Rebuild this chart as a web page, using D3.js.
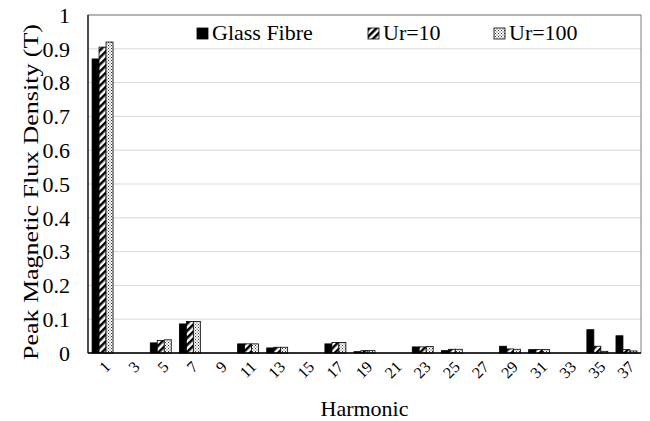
<!DOCTYPE html>
<html><head><meta charset="utf-8">
<script src="https://cdn.jsdelivr.net/npm/d3@7"></script>
<style>body{margin:0;background:#fff}svg{display:block}</style>
</head><body><svg id="c" width="650" height="421"></svg>
<script>
const harmonics = ["1","3","5","7","9","11","13","15","17","19","21","23","25","27","29","31","33","35","37"];
const seriesNames = ["Glass Fibre","Ur=10","Ur=100"];
const glassFibre = [0.870,0,0.030,0.086,0,0.027,0.015,0,0.027,0.004,0,0.018,0.007,0,0.020,0.010,0,0.069,0.051];
const ur10       = [0.905,0,0.037,0.093,0,0.027,0.017,0,0.031,0.007,0,0.018,0.011,0,0.012,0.010,0,0.020,0.010];
const ur100      = [0.920,0,0.039,0.093,0,0.027,0.017,0,0.031,0.007,0,0.019,0.011,0,0.011,0.010,0,0.005,0.006];
const yTicks = [0,0.1,0.2,0.3,0.4,0.5,0.6,0.7,0.8,0.9,1];
const yTickLabels = ["0","0.1","0.2","0.3","0.4","0.5","0.6","0.7","0.8","0.9","1"];

const FONT = "'Liberation Serif', 'Times New Roman', 'DejaVu Serif', serif";
const svg = d3.select("#c");
const L=88, R=641, T=15, B=353;
const defs = svg.append("defs");
const hatch = defs.append("pattern").attr("id","hatch").attr("patternUnits","userSpaceOnUse")
  .attr("width",5).attr("height",5).attr("patternTransform","rotate(45)");
hatch.append("rect").attr("width",5).attr("height",5).attr("fill","#fff");
hatch.append("rect").attr("width",2.5).attr("height",5).attr("fill","#000");
const dots = defs.append("pattern").attr("id","dots").attr("patternUnits","userSpaceOnUse")
  .attr("width",3).attr("height",3);
dots.append("rect").attr("width",3).attr("height",3).attr("fill","#fff");
dots.append("rect").attr("x",0).attr("y",0).attr("width",1).attr("height",1).attr("fill","#333");
dots.append("rect").attr("x",1.5).attr("y",1.5).attr("width",1).attr("height",1).attr("fill","#333");
const fills = ["#000","url(#hatch)","url(#dots)"];

const x = d3.scaleBand().domain(harmonics).range([L,R]).paddingInner(0.28).paddingOuter(0.14);
const xs = d3.scaleBand().domain(seriesNames).range([0,x.bandwidth()]);
const y = d3.scaleLinear().domain([0,1]).range([B,T]);

// gridlines
svg.append("g").selectAll("line").data(yTicks.filter(v=>v>0)).join("line")
  .attr("x1",L).attr("x2",R).attr("y1",d=>y(d)).attr("y2",d=>y(d))
  .attr("stroke","#d9d9d9").attr("stroke-width",1);
// plot frame
svg.append("rect").attr("x",L).attr("y",T).attr("width",R-L).attr("height",B-T)
  .attr("fill","none").attr("stroke","#7f7f7f").attr("stroke-width",1);

// bars
const data = [glassFibre, ur10, ur100];
data.forEach((vals,si)=>{
  svg.append("g").selectAll("rect").data(vals.map((v,i)=>({h:harmonics[i],v})).filter(d=>d.v>0)).join("rect")
    .attr("x",d=>x(d.h)+xs(seriesNames[si]))
    .attr("y",d=>y(d.v))
    .attr("width",xs.bandwidth())
    .attr("height",d=>B-y(d.v))
    .attr("fill",fills[si]).attr("stroke","#000").attr("stroke-width",0.8);
});

// axes lines
svg.append("line").attr("x1",L).attr("x2",L).attr("y1",T).attr("y2",B).attr("stroke","#000").attr("stroke-width",1.2);
svg.append("line").attr("x1",L).attr("x2",R).attr("y1",B).attr("y2",B).attr("stroke","#000").attr("stroke-width",1.5);

// y tick labels
svg.append("g").selectAll("text").data(yTicks).join("text")
  .attr("x",70).attr("y",d=>y(d)).attr("dy","0.35em").attr("text-anchor","end")
  .attr("font-family",FONT).attr("font-size",22).text((d,i)=>yTickLabels[i]);

// x tick labels
svg.append("g").selectAll("text").data(harmonics).join("text")
  .attr("transform",d=>`translate(${x(d)+x.bandwidth()/2+5},${364}) rotate(-45)`)
  .attr("text-anchor","end").attr("dy","0.35em")
  .attr("font-family",FONT).attr("font-size",16).text(d=>d);

// axis titles
svg.append("text").attr("x",(L+R)/2).attr("y",416).attr("text-anchor","middle")
  .attr("font-family",FONT).attr("font-size",22).text("Harmonic");
svg.append("text").attr("transform",`translate(38,192) rotate(-90)`).attr("text-anchor","middle")
  .attr("font-family",FONT).attr("font-size",21)
  .attr("textLength",336).attr("lengthAdjust","spacingAndGlyphs")
  .text("Peak Magnetic Flux Density (T)");

// legend
const legX = [197, 368, 494];
const lg = svg.append("g");
seriesNames.forEach((n,i)=>{
  lg.append("rect").attr("x",legX[i]).attr("y",28).attr("width",11).attr("height",11)
    .attr("fill",fills[i]).attr("stroke","#000").attr("stroke-width",0.8);
  lg.append("text").attr("x",legX[i]+15).attr("y",40)
    .attr("font-family",FONT).attr("font-size",22).text(n);
});
</script></body></html>
